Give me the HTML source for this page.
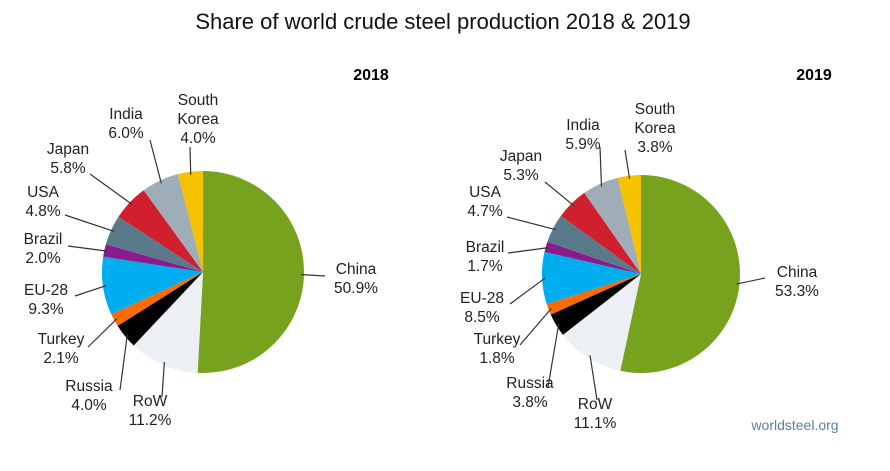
<!DOCTYPE html>
<html><head><meta charset="utf-8"><style>
body{margin:0;background:#fff;width:890px;height:466px;overflow:hidden;font-family:"Liberation Sans",sans-serif}
svg text{font-family:"Liberation Sans",sans-serif}
</style></head><body>
<svg id="chart" width="890" height="466" viewBox="0 0 890 466">
<text x="443" y="29" text-anchor="middle" font-size="22" fill="#111">Share of world crude steel production 2018 &amp; 2019</text>
<text x="371" y="80" text-anchor="middle" font-size="16" font-weight="bold">2018</text>
<text x="814" y="80" text-anchor="middle" font-size="16" font-weight="bold">2019</text>
<text x="795" y="430" text-anchor="middle" font-size="14" fill="#5b7fa0">worldsteel.org</text>
</svg>
<script>
const categories=["China","RoW","Russia","Turkey","EU-28","Brazil","USA","Japan","India","South\nKorea"];
const values2018=[50.9,11.2,4.0,2.1,9.3,2.0,4.8,5.8,6.0,4.0];
const values2019=[53.3,11.1,3.8,1.8,8.5,1.7,4.7,5.3,5.9,3.8];
const labels2018=["50.9%","11.2%","4.0%","2.1%","9.3%","2.0%","4.8%","5.8%","6.0%","4.0%"];
const labels2019=["53.3%","11.1%","3.8%","1.8%","8.5%","1.7%","4.7%","5.3%","5.9%","3.8%"];
const colors=["#76a21e","#eceff3","#000000","#f96b07","#00aeef","#8b1a8b","#5a7a8c","#d0202e","#9fadb8","#f5c200"];
const svg=document.getElementById('chart');
const NS="http://www.w3.org/2000/svg";
// label layout: [textX, firstLineY, anchorX, anchorY]
const layout2018=[[356,274,325,276],[150,406,162,397],[89,391,120,390],[61,344,88,347],[46,295,75,296],[43,244,68,246],[43,197,65,215],[68,154,90,174],[126,119,150,140],[198,105,190,147]];
const layout2019=[[797,277,765,278],[595,409,597,400],[530,388,548,387],[497,344,520,345],[482,303,510,304],[485,252,508,253],[485,197,507,217],[521,161,545,182],[583,130,600,147],[655,114,625,150]];
function drawPie(vals,labs,cx,cy,r,lay,tag){
  const total=vals.reduce((a,b)=>a+b,0);
  let a0=-Math.PI/2;
  vals.forEach((v,i)=>{
    const a1=a0+v/total*2*Math.PI;
    const x0=cx+r*Math.cos(a0),y0=cy+r*Math.sin(a0),x1=cx+r*Math.cos(a1),y1=cy+r*Math.sin(a1);
    const p=document.createElementNS(NS,'path');
    p.setAttribute('d',`M${cx},${cy}L${x0},${y0}A${r},${r} 0 ${a1-a0>Math.PI?1:0} 1 ${x1},${y1}Z`);
    p.setAttribute('fill',colors[i]);
    
    
    svg.appendChild(p);
    const am=(a0+a1)/2;
    const ex=cx+(r-3)*Math.cos(am),ey=cy+(r-3)*Math.sin(am);
    const L=lay[i];
    const ln=document.createElementNS(NS,'polyline');
    ln.setAttribute('points',`${L[2]},${L[3]} ${ex},${ey}`);
    ln.setAttribute('fill','none');ln.setAttribute('stroke','#333');ln.setAttribute('stroke-width','1.2');
    
    
    svg.appendChild(ln);
    const lines=categories[i].split('\n').concat([labs[i]]);
    const t=document.createElementNS(NS,'text');
    t.setAttribute('text-anchor','middle');t.setAttribute('font-size','15.5');t.setAttribute('fill','#222');
    
    
    lines.forEach((s,k)=>{const ts=document.createElementNS(NS,'tspan');ts.setAttribute('x',L[0]);ts.setAttribute('y',L[1]+k*19);ts.textContent=s;t.appendChild(ts);});
    svg.appendChild(t);
    a0=a1;
  });
}
drawPie(values2018,labels2018,203,272,101,layout2018,'2018');
drawPie(values2019,labels2019,641,274,99,layout2019,'2019');
</script>
</body></html>
